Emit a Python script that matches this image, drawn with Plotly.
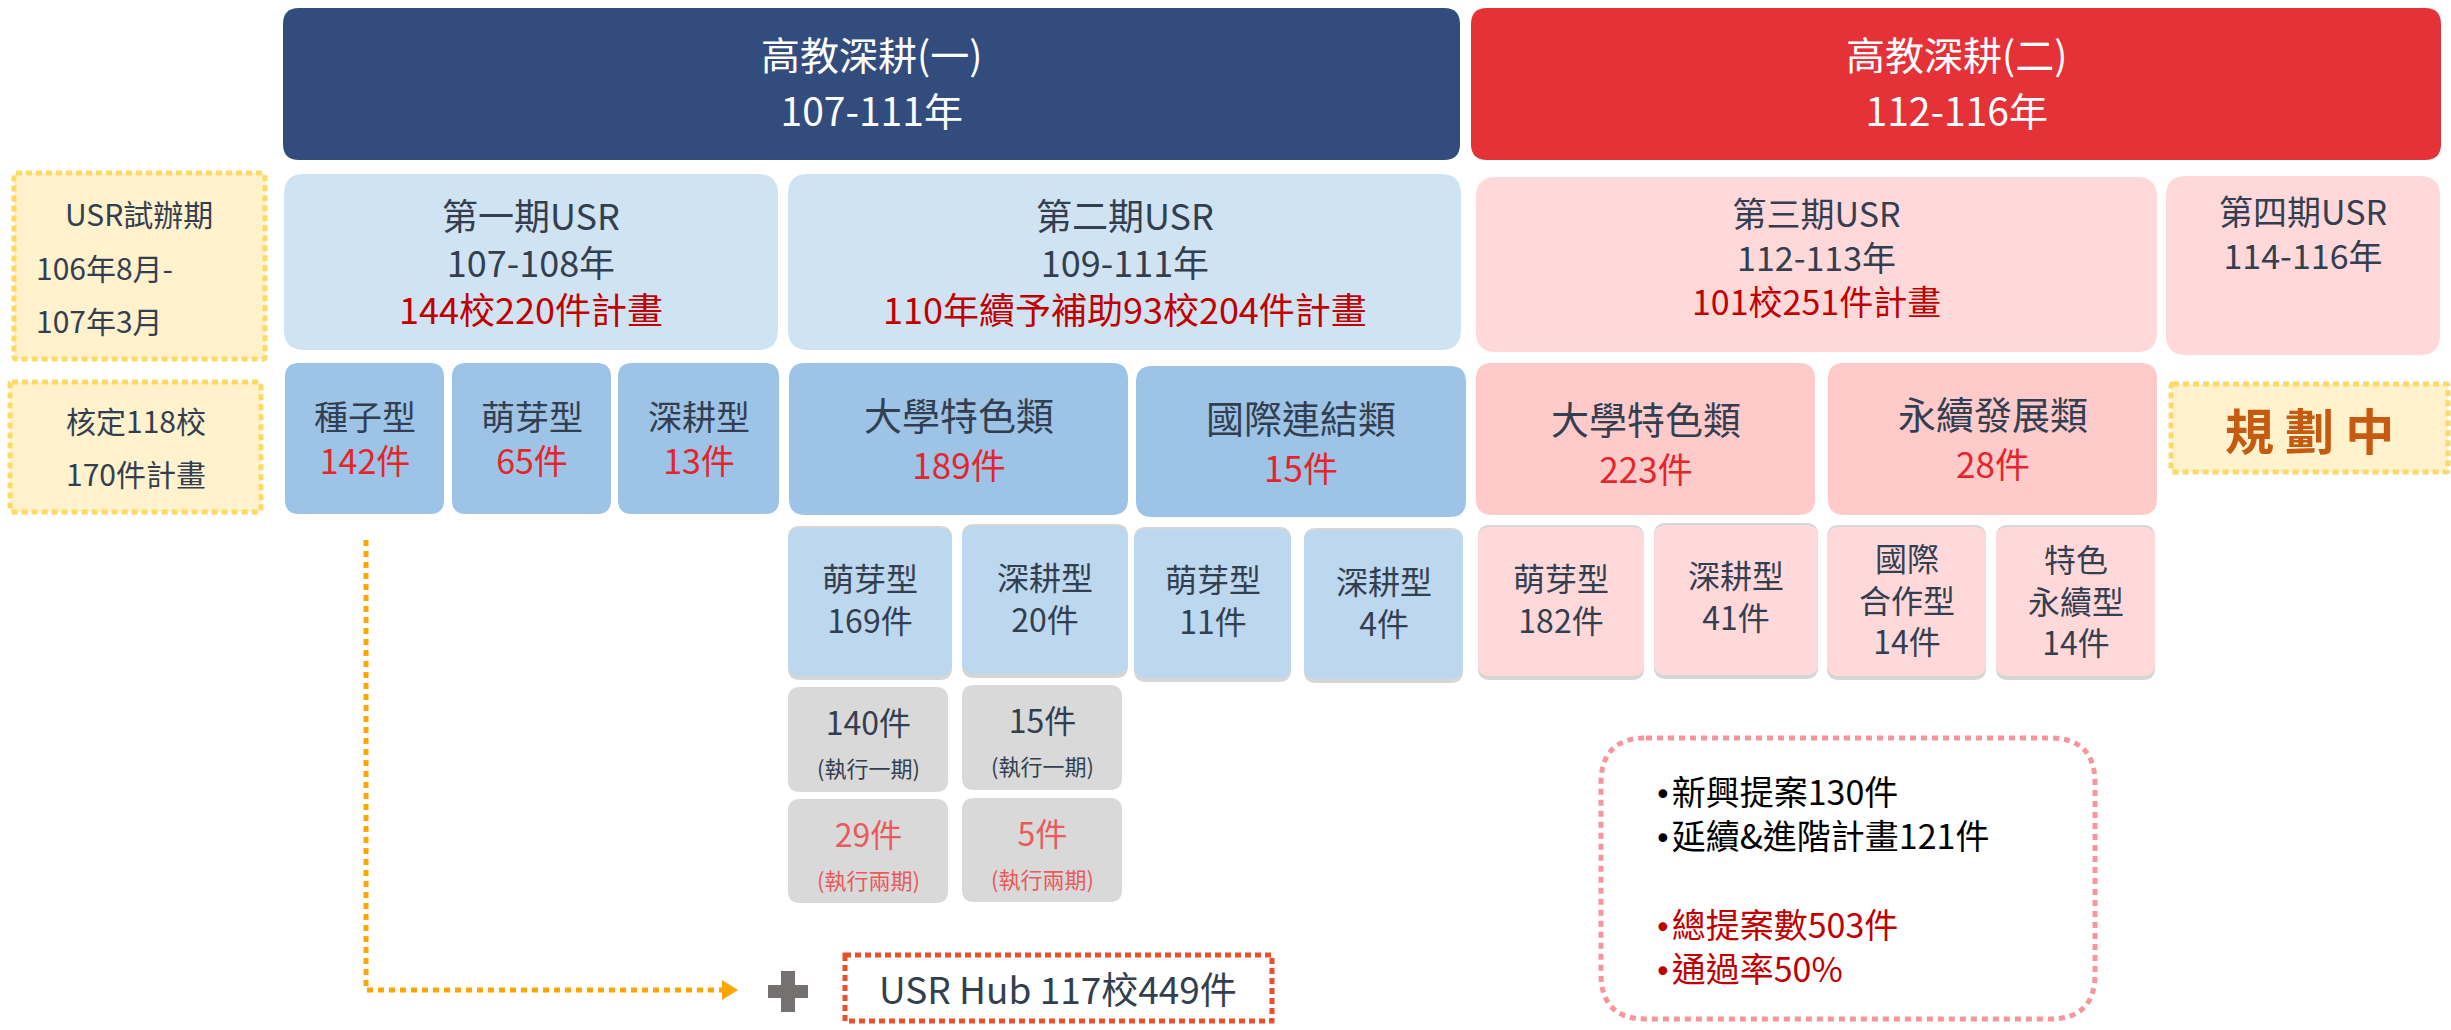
import plotly.graph_objects as go

# ---------------- data (texts & values) ----------------
program_titles = ["高教深耕(一)", "高教深耕(二)"]
program_years = ["107-111年", "112-116年"]
phase_names = ["第一期USR", "第二期USR", "第三期USR", "第四期USR"]
phase_years = ["107-108年", "109-111年", "112-113年", "114-116年"]
phase_summary = ["144校220件計畫", "110年續予補助93校204件計畫", "101校251件計畫", ""]
pilot_lines = ["USR試辦期", "106年8月-", "107年3月"]
pilot_approved = ["核定118校", "170件計畫"]
phase1_types = ["種子型", "萌芽型", "深耕型"]
phase1_counts = [142, 65, 13]
phase2_categories = ["大學特色類", "國際連結類"]
phase2_cat_counts = [189, 15]
phase2_types = [["萌芽型"], ["深耕型"], ["萌芽型"], ["深耕型"]]
phase2_type_counts = [169, 20, 11, 4]
phase2_once = [140, 15]
phase2_twice = [29, 5]
phase3_categories = ["大學特色類", "永續發展類"]
phase3_cat_counts = [223, 28]
phase3_types = [["萌芽型"], ["深耕型"], ["國際", "合作型"], ["特色", "永續型"]]
phase3_type_counts = [182, 41, 14, 14]
planning_label = "規 劃 中"
hub_label = "USR Hub 117校449件"
proposal_new = 130
proposal_cont = 121
proposal_total = 503
pass_rate = 50

# ---------------- styles ----------------
W, H = 2451, 1030
FONT = "Noto Sans CJK TC"
DARK = "#333F50"
RED_DARK = "#C00000"
RED = "#E3262C"
RED_SOFT = "#E85A5C"

# ---------------- geometry (pixel layout of the diagram) ----------------
top_boxes = [(283, 8, 1460, 160, "#324C7E"), (1471, 8, 2441, 160, "#E53238")]
phase_boxes = [(284, 174, 778, 350, "#D0E3F2"), (788, 174, 1461, 350, "#D0E3F2"),
               (1476, 177, 2157, 352, "#FFD9DA"), (2166, 176, 2440, 355, "#FFD9DA")]
phase_text = [(261, 36), (261, 36), (256, 34), (232, 34)]
p1_boxes = [(285, 363, 444, 514), (452, 363, 611, 514), (618, 363, 779, 514)]
p2_cat_boxes = [(789, 363, 1128, 515), (1136, 366, 1466, 517)]
p2_cat_y = [437, 440]
p3_cat_boxes = [(1476, 363, 1815, 515), (1828, 363, 2157, 515)]
p3_cat_y = [441, 436]
p2_type_boxes = [(788, 528, 952, 676), (962, 526, 1128, 674), (1134, 529, 1291, 678), (1304, 530, 1463, 679)]
p2_type_y = [598, 597, 599, 601]
p3_type_boxes = [(1478, 527, 1644, 676), (1654, 525, 1818, 675), (1827, 527, 1986, 676), (1996, 527, 2155, 676)]
p3_type_y = [598, 595, 598, 599]
once_boxes = [(788, 687, 948, 792), (962, 685, 1122, 790)]
twice_boxes = [(788, 799, 948, 903), (962, 798, 1122, 902)]

shapes = []
annotations = []


def rr(x0, y0, x1, y1, r):
    return (f"M{x0 + r},{y0} L{x1 - r},{y0} Q{x1},{y0} {x1},{y0 + r} "
            f"L{x1},{y1 - r} Q{x1},{y1} {x1 - r},{y1} L{x0 + r},{y1} "
            f"Q{x0},{y1} {x0},{y1 - r} L{x0},{y0 + r} Q{x0},{y0} {x0 + r},{y0} Z")


def box(x0, y0, x1, y1, fill, r=14, line=None, dash="solid", lw=0, shadow=False):
    if shadow:
        shapes.append(dict(type="path", path=rr(x0, y0 - 2, x1, y1 + 4, r), fillcolor="#D6D6D6",
                           line=dict(width=0), layer="below", xref="x", yref="y"))
    shapes.append(dict(type="path", path=rr(x0, y0, x1, y1, r), fillcolor=fill,
                       line=dict(width=lw, color=line or fill, dash=dash),
                       layer="below", xref="x", yref="y"))


def txt(x, y, s, size, color, anchor="center", weight="normal", align="center"):
    annotations.append(dict(x=x, y=y, text=s, showarrow=False, xanchor=anchor, yanchor="middle",
                            xref="x", yref="y", align=align,
                            font=dict(family=FONT, size=size, color=color, weight=weight)))


def mtxt(x, y, lines, base, anchor="center", align="center"):
    """lines: list of (text, size, color); line spacing is 1.3 x base size."""
    parts = [f"<span style='font-size:{s}px;color:{c}'>{t}</span>" for t, s, c in lines]
    txt(x, y, "<br>".join(parts), base, DARK, anchor=anchor, align=align)


def cx(b):
    return (b[0] + b[2]) / 2


# top program boxes
for (x0, y0, x1, y1, c), t, yr in zip(top_boxes, program_titles, program_years):
    box(x0, y0, x1, y1, c, r=16)
    mtxt((x0 + x1) / 2, 81, [(t, 39, "white"), (yr, 39, "white")], 43)

# phase boxes
for (x0, y0, x1, y1, c), n, yr, s, (yc, fs) in zip(phase_boxes, phase_names, phase_years, phase_summary, phase_text):
    box(x0, y0, x1, y1, c, r=20)
    lines = [(n, fs, DARK), (yr, fs, DARK)]
    if s:
        lines.append((s, fs, RED_DARK))
    mtxt((x0 + x1) / 2, yc, lines, fs)

# pilot (yellow dashed) boxes
box(14, 173, 265, 359, "#FFF2CC", r=2, line="#FFD966", dash="6px,4px", lw=5)
txt(139, 213, pilot_lines[0], 30, DARK)
txt(34, 267, pilot_lines[1], 30, DARK, anchor="left")
txt(34, 320, pilot_lines[2], 30, DARK, anchor="left")
box(10, 382, 261, 512, "#FFF2CC", r=2, line="#FFD966", dash="6px,4px", lw=5)
txt(136, 420, pilot_approved[0], 30, DARK)
txt(136, 473, pilot_approved[1], 30, DARK)

# phase 1 types
for b, t, n in zip(p1_boxes, phase1_types, phase1_counts):
    box(*b, "#9DC3E6", r=14)
    mtxt(cx(b), 437, [(t, 34, DARK), (f"{n}件", 34, RED)], 34)

# phase 2 categories
for b, t, n, yc in zip(p2_cat_boxes, phase2_categories, phase2_cat_counts, p2_cat_y):
    box(*b, "#9DC3E6", r=16)
    mtxt(cx(b), yc, [(t, 38, DARK), (f"{n}件", 35, RED)], 38)

# phase 3 categories
for b, t, n, yc in zip(p3_cat_boxes, phase3_categories, phase3_cat_counts, p3_cat_y):
    box(*b, "#FECACA", r=16)
    mtxt(cx(b), yc, [(t, 38, DARK), (f"{n}件", 35, RED)], 38)

# planning box
box(2171, 384, 2448, 472, "#FFF2CC", r=2, line="#FFD966", dash="6px,4px", lw=5)
txt(2309, 428, planning_label, 49, "#C55A11", weight="bold")

# phase 2 types
for b, lines, n, yc in zip(p2_type_boxes, phase2_types, phase2_type_counts, p2_type_y):
    box(*b, "#BDD7EE", r=12, shadow=True)
    mtxt(cx(b), yc, [(ln, 32, DARK) for ln in lines + [f"{n}件"]], 32)

# phase 3 types
for b, lines, n, yc in zip(p3_type_boxes, phase3_types, phase3_type_counts, p3_type_y):
    box(*b, "#FFD9DA", r=12, shadow=True)
    mtxt(cx(b), yc, [(ln, 32, DARK) for ln in lines + [f"{n}件"]], 32)

# gray execution boxes
for b, n in zip(once_boxes, phase2_once):
    box(*b, "#D9D9D9", r=12)
    mtxt(cx(b), (b[1] + b[3]) / 2 + 1, [(f"{n}件", 32, DARK), ("(執行一期)", 22, DARK)], 32)
for b, n in zip(twice_boxes, phase2_twice):
    box(*b, "#D9D9D9", r=12)
    mtxt(cx(b), (b[1] + b[3]) / 2 + 1, [(f"{n}件", 32, RED_SOFT), ("(執行兩期)", 22, RED_SOFT)], 32)

# orange dotted connector with arrow head
shapes.append(dict(type="path", path="M366,540 L366,990 L722,990", line=dict(color="#FFA500", width=5, dash="6px,5px"),
                   xref="x", yref="y"))
shapes.append(dict(type="path", path="M722,980 L738,990 L722,1000 Z", fillcolor="#FFA500",
                   line=dict(width=0), xref="x", yref="y"))

# plus sign
shapes.append(dict(type="rect", x0=768, y0=985, x1=808, y1=998, fillcolor="#767171", line=dict(width=0), xref="x", yref="y"))
shapes.append(dict(type="rect", x0=781, y0=971, x1=795, y1=1012, fillcolor="#767171", line=dict(width=0), xref="x", yref="y"))

# USR Hub box
shapes.append(dict(type="rect", x0=845, y0=955, x1=1272, y1=1021, fillcolor="white",
                   line=dict(color="#E9502B", width=5, dash="6px,4px"), xref="x", yref="y"))
txt(1058, 988, hub_label, 37, DARK)

# summary box
box(1601, 738, 2095, 1019, "rgba(0,0,0,0)", r=45, line="#F7959A", dash="6px,5px", lw=5)
BUL = "<span style='font-family:DejaVu Sans;font-size:30px'>•</span>"
summary_lines = [
    f"{BUL}新興提案{proposal_new}件",
    f"{BUL}延續&進階計畫{proposal_cont}件",
    "\u00a0",
    f"<span style='color:{RED_DARK}'>{BUL}總提案數{proposal_total}件</span>",
    f"<span style='color:{RED_DARK}'>{BUL}通過率{pass_rate}%</span>",
]
annotations.append(dict(x=1652, y=879, text="<br>".join(summary_lines), showarrow=False, xanchor="left",
                        yanchor="middle", align="left", xref="x", yref="y",
                        font=dict(family=FONT, size=34, color="#000000")))

fig = go.Figure()
fig.update_layout(
    width=W, height=H, margin=dict(l=0, r=0, t=0, b=0),
    paper_bgcolor="white", plot_bgcolor="white",
    xaxis=dict(range=[0, W], visible=False, fixedrange=True),
    yaxis=dict(range=[H, 0], visible=False, fixedrange=True),
    shapes=shapes, annotations=annotations, showlegend=False,
)
fig.write_html("out.html", config={"displayModeBar": False},
               post_script="document.body.style.margin='0';")
